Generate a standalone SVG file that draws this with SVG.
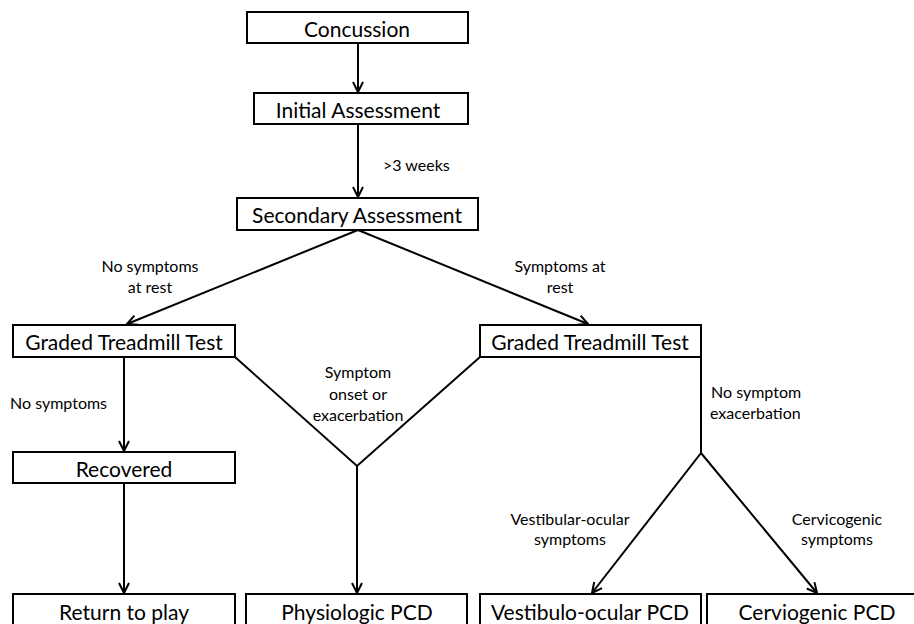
<svg xmlns="http://www.w3.org/2000/svg" width="914" height="624" viewBox="0 0 914 624">
<style>
.box{fill:#fff;stroke:#000;stroke-width:2}
.bt{font-family:Lato,"Open Sans",sans-serif;font-size:21px;fill:#000;text-anchor:middle;dominant-baseline:central}
.lb{font-family:Lato,"Open Sans",sans-serif;font-size:16px;fill:#000;text-anchor:middle}
.ls{font-family:Lato,"Open Sans",sans-serif;font-size:16px;fill:#000;text-anchor:start}
.ln{fill:none;stroke:#000;stroke-width:2}
</style>
<defs>
<marker id="ah" viewBox="0 0 12 12" refX="11" refY="6" markerWidth="12" markerHeight="12" markerUnits="userSpaceOnUse" orient="auto">
<path d="M1,1 L11,6 L1,11" fill="none" stroke="#000" stroke-width="2"/>
</marker>
</defs>
<rect width="914" height="624" fill="#fff"/>
<g id="connectors">
<line class="ln" x1="358" y1="43" x2="358" y2="92" marker-end="url(#ah)"/>
<line class="ln" x1="358" y1="124" x2="358" y2="197" marker-end="url(#ah)"/>
<line class="ln" x1="358" y1="230" x2="127" y2="324" marker-end="url(#ah)"/>
<line class="ln" x1="358" y1="230" x2="588" y2="324" marker-end="url(#ah)"/>
<line class="ln" x1="124" y1="357" x2="124" y2="451" marker-end="url(#ah)"/>
<line class="ln" x1="124" y1="483" x2="124" y2="593" marker-end="url(#ah)"/>
<polyline class="ln" points="235,357 357,466 480,357"/>
<line class="ln" x1="357" y1="466" x2="357" y2="593" marker-end="url(#ah)"/>
<line class="ln" x1="701" y1="357" x2="701" y2="453"/>
<line class="ln" x1="701" y1="453" x2="592" y2="593" marker-end="url(#ah)"/>
<line class="ln" x1="701" y1="453" x2="817" y2="593" marker-end="url(#ah)"/>
<text class="ls" x="383" y="171">&gt;3 weeks</text>
<text class="lb" x="150" y="272">No symptoms</text>
<text class="lb" x="150" y="293">at rest</text>
<text class="lb" x="560" y="272">Symptoms at</text>
<text class="lb" x="560" y="293">rest</text>
<text class="lb" x="358" y="378">Symptom</text>
<text class="lb" x="358" y="400">onset or</text>
<text class="lb" x="358" y="421">exacerbation</text>
<text class="ls" x="10" y="409">No symptoms</text>
<text class="ls" x="711" y="398">No symptom</text>
<text class="ls" x="710" y="419">exacerbation</text>
<text class="lb" x="570" y="525">Vestibular-ocular</text>
<text class="lb" x="570" y="545">symptoms</text>
<text class="lb" x="837" y="525">Cervicogenic</text>
<text class="lb" x="837" y="545">symptoms</text>
</g>
<g id="concussion"><rect class="box" x="247" y="12" width="221" height="31"/><text class="bt" x="357" y="28">Concussion</text></g>
<g id="initial"><rect class="box" x="254" y="93" width="214" height="31"/><text class="bt" x="358" y="109">Initial Assessment</text></g>
<g id="secondary"><rect class="box" x="237" y="198" width="241" height="32"/><text class="bt" x="357" y="214">Secondary Assessment</text></g>
<g id="gtt-left"><rect class="box" x="13" y="325" width="222" height="32"/><text class="bt" x="124" y="341">Graded Treadmill Test</text></g>
<g id="gtt-right"><rect class="box" x="480" y="325" width="221" height="32"/><text class="bt" x="590" y="341">Graded Treadmill Test</text></g>
<g id="recovered"><rect class="box" x="13" y="452" width="222" height="31"/><text class="bt" x="124" y="468">Recovered</text></g>
<g id="return"><rect class="box" x="13" y="594" width="222" height="40"/><text class="bt" x="124" y="611">Return to play</text></g>
<g id="physiologic"><rect class="box" x="246" y="594" width="221" height="40"/><text class="bt" x="357" y="611">Physiologic PCD</text></g>
<g id="vestibulo"><rect class="box" x="480" y="594" width="221" height="40"/><text class="bt" x="590" y="611">Vestibulo-ocular PCD</text></g>
<g id="cerviogenic"><rect class="box" x="707" y="594" width="220" height="40"/><text class="bt" x="817" y="611">Cerviogenic PCD</text></g>
</svg>
